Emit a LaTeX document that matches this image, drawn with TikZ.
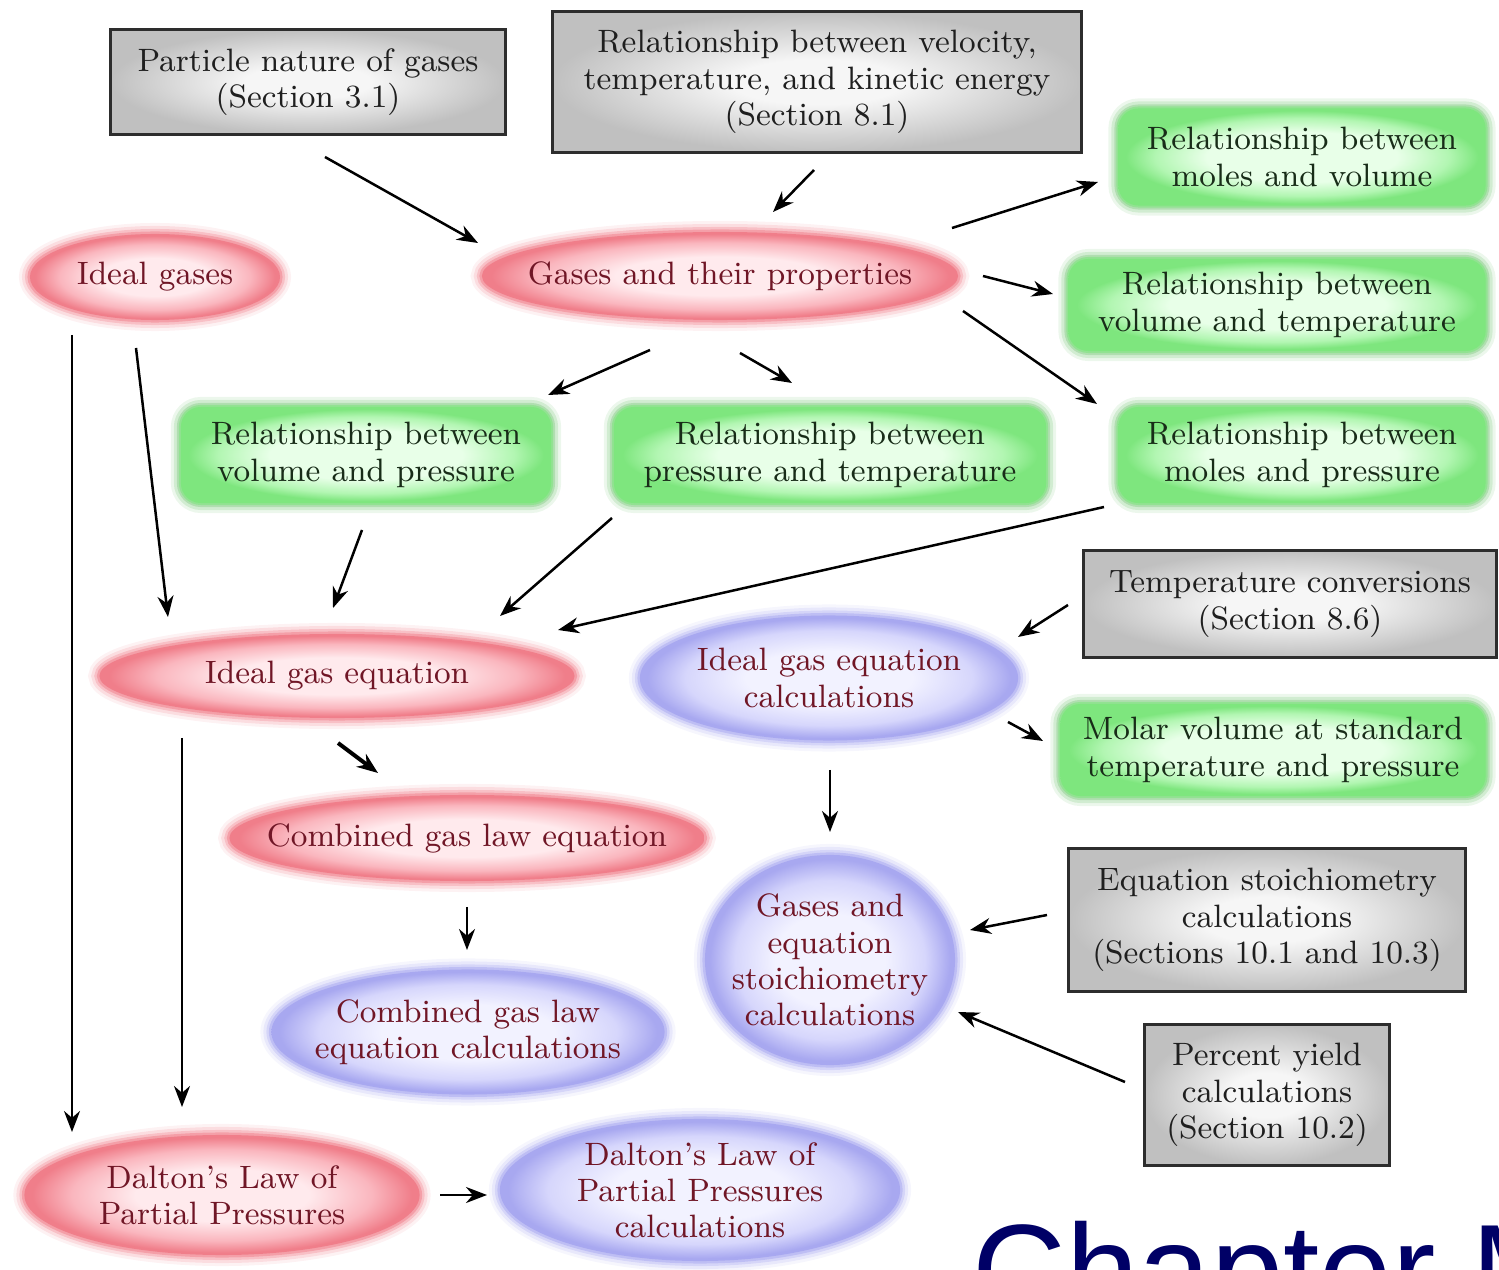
\documentclass[tikz,border=0pt]{standalone}
\usepackage{fontspec}
\usetikzlibrary{shapes.geometric,arrows.meta}
\newfontfamily\chapfont{Liberation Sans}
\definecolor{redin}{RGB}{255,234,237}
\definecolor{redmid}{RGB}{250,182,190}
\definecolor{redout}{RGB}{240,126,138}
\definecolor{bluein}{RGB}{242,242,255}
\definecolor{bluemid}{RGB}{214,214,252}
\definecolor{blueout}{RGB}{168,168,240}
\definecolor{greenin}{RGB}{232,255,232}
\definecolor{greenmid}{RGB}{178,246,178}
\definecolor{greenout}{RGB}{126,230,126}
\definecolor{greenglow}{RGB}{100,190,100}
\definecolor{grayin}{RGB}{246,246,246}
\definecolor{grayout}{RGB}{192,192,192}
\definecolor{grayborder}{RGB}{45,45,45}
\definecolor{maroontext}{RGB}{112,22,38}
\definecolor{greentext}{RGB}{24,44,24}
\definecolor{chapterblue}{RGB}{0,0,102}
\pgfdeclareradialshading{redglow}{\pgfpoint{0bp}{0bp}}{color(0bp)=(redin); color(11bp)=(redin); color(19bp)=(redmid); color(24bp)=(redout); color(50bp)=(redout)}
\pgfdeclareradialshading{blueglow}{\pgfpoint{0bp}{0bp}}{color(0bp)=(bluein); color(11bp)=(bluein); color(19bp)=(bluemid); color(24bp)=(blueout); color(50bp)=(blueout)}
\pgfdeclareradialshading{greenfill}{\pgfpoint{0bp}{0bp}}{color(0bp)=(greenin); color(13bp)=(greenin); color(20bp)=(greenmid); color(24bp)=(greenout); color(50bp)=(greenout)}
\pgfdeclareradialshading{grayfill}{\pgfpoint{0bp}{0bp}}{color(0bp)=(grayin); color(8bp)=(grayin); color(25bp)=(grayout); color(50bp)=(grayout)}

\begin{document}
\begin{tikzpicture}[x=0.01cm, y=-0.01cm]
    \tikzstyle{every node} = [font=\fontsize{9.2}{10.3}\selectfont, align=center, inner sep=0pt]
    \tikzstyle{redell} = [ellipse, inner xsep=-3cm, inner ysep=-2cm, shading=redglow, text=maroontext,
        preaction={draw=redout, line width=0.22cm, draw opacity=0.1},
        preaction={draw=redout, line width=0.16cm, draw opacity=0.18},
        preaction={draw=redout, line width=0.10cm, draw opacity=0.3},
        preaction={draw=redout, line width=0.05cm, draw opacity=0.5}]
    \tikzstyle{blueell} = [ellipse, inner xsep=-3cm, inner ysep=-2cm, shading=blueglow, text=maroontext,
        preaction={draw=blueout, line width=0.22cm, draw opacity=0.1},
        preaction={draw=blueout, line width=0.16cm, draw opacity=0.18},
        preaction={draw=blueout, line width=0.10cm, draw opacity=0.3},
        preaction={draw=blueout, line width=0.05cm, draw opacity=0.5}]
    \tikzstyle{relbox} = [rectangle, rounded corners=0.2cm, shading=greenfill, text=greentext,
        preaction={draw=greenglow, line width=0.20cm, draw opacity=0.12},
        preaction={draw=greenglow, line width=0.14cm, draw opacity=0.2},
        preaction={draw=greenglow, line width=0.08cm, draw opacity=0.3},
        preaction={draw=greenout, line width=0.04cm, draw opacity=0.6}]
    \tikzstyle{secbox} = [rectangle, shading=grayfill, draw=grayborder, line width=0.03cm, text=black!88]
    \tikzstyle{arr} = [-{Stealth[length=0.21cm, width=0.16cm]}, line width=0.025cm]
    \useasboundingbox (0,0) rectangle (1499,1270);

    % prior knowledge
    \node[secbox, minimum width=3.94cm, minimum height=1.04cm] (particle) at (308,82) {Particle nature of gases\\(Section 3.1)};
    \node[secbox, minimum width=5.29cm, minimum height=1.40cm] (velocity) at (817,82) {Relationship between velocity,\\temperature, and kinetic energy\\(Section 8.1)};
    \node[secbox, minimum width=4.12cm, minimum height=1.06cm] (tempconv) at (1290,604) {Temperature conversions\\(Section 8.6)};
    \node[secbox, minimum width=3.96cm, minimum height=1.43cm] (eqstoich) at (1267,920) {Equation stoichiometry\\calculations\\(Sections 10.1 and 10.3)};
    \node[secbox, minimum width=2.45cm, minimum height=1.40cm] (yield) at (1267,1095) {Percent yield\\calculations\\(Section 10.2)};

    % topics
    \node[redell, minimum width=2.50cm, minimum height=0.86cm] (idealgases) at (155,277) {Ideal gases};
    \node[redell, minimum width=4.76cm, minimum height=0.88cm] (properties) at (720,276) {Gases and their properties};
    \node[redell, minimum width=4.75cm, minimum height=0.84cm] (idealeq) at (337,676) {Ideal gas equation};
    \node[redell, minimum width=4.75cm, minimum height=0.86cm] (combined) at (467,838) {Combined gas law equation};
    \node[redell, minimum width=3.95cm, minimum height=1.20cm] (dalton) at (222,1195) {Dalton's Law of\\Partial Pressures};

    % relationships
    \node[relbox, minimum width=3.67cm, minimum height=0.97cm] (molvol) at (1302,157) {Relationship between\\moles and volume};
    \node[relbox, minimum width=4.17cm, minimum height=0.92cm] (voltemp) at (1277,305) {Relationship between\\volume and temperature};
    \node[relbox, minimum width=3.70cm, minimum height=0.96cm] (volpres) at (366,455) {Relationship between\\volume and pressure};
    \node[relbox, minimum width=4.32cm, minimum height=0.96cm] (prestemp) at (830,455) {Relationship between\\pressure and temperature};
    \node[relbox, minimum width=3.67cm, minimum height=0.96cm] (molpres) at (1302,455) {Relationship between\\moles and pressure};
    \node[relbox, minimum width=4.25cm, minimum height=0.92cm] (molarvol) at (1273,750) {Molar volume at standard\\temperature and pressure};

    % calculations
    \node[blueell, minimum width=3.78cm, minimum height=1.25cm] (idealcalc) at (829,678) {Ideal gas equation\\calculations};
    \node[blueell, minimum width=2.50cm, minimum height=2.10cm] (gasstoich) at (830,960) {Gases and\\equation\\stoichiometry\\calculations};
    \node[blueell, minimum width=3.93cm, minimum height=1.25cm] (combcalc) at (468,1032) {Combined gas law\\equation calculations};
    \node[blueell, minimum width=4.00cm, minimum height=1.42cm] (daltcalc) at (700,1190) {Dalton's Law of\\Partial Pressures\\calculations};

    \node[anchor=base west, text=chapterblue, font=\chapfont\fontsize{37}{37}\selectfont] (chapter) at (972,1315) {Chapter M};

    % arrows
    \draw[arr] ([shift={(17,75)}]particle.center) -- ([shift={(-242,-33)}]properties.center);
    \draw[arr] ([shift={(-3,88)}]velocity.center) -- ([shift={(53,-64)}]properties.center);
    \draw[arr] ([shift={(232,-48)}]properties.center) -- ([shift={(-204,25)}]molvol.center);
    \draw[arr] ([shift={(263,0)}]properties.center) -- ([shift={(-224,-11)}]voltemp.center);
    \draw[arr] ([shift={(243,35)}]properties.center) -- ([shift={(-205,-51)}]molpres.center);
    \draw[arr] ([shift={(-70,74)}]properties.center) -- ([shift={(182,-60)}]volpres.center);
    \draw[arr] ([shift={(20,77)}]properties.center) -- ([shift={(-38,-72)}]prestemp.center);
    \draw[arr] ([shift={(-83,58)}]idealgases.center) -- ([shift={(-150,-63)}]dalton.center);
    \draw[arr] ([shift={(-19,71)}]idealgases.center) -- ([shift={(-169,-59)}]idealeq.center);
    \draw[arr] ([shift={(-4,75)}]volpres.center) -- ([shift={(-4,-68)}]idealeq.center);
    \draw[arr] ([shift={(-218,63)}]prestemp.center) -- ([shift={(163,-60)}]idealeq.center);
    \draw[arr] ([shift={(-198,52)}]molpres.center) -- ([shift={(221,-46)}]idealeq.center);
    \draw[arr] ([shift={(-222,1)}]tempconv.center) -- ([shift={(189,-41)}]idealcalc.center);
    \draw[arr] ([shift={(179,44)}]idealcalc.center) -- ([shift={(-230,-9)}]molarvol.center);
    \draw[arr] ([shift={(1,92)}]idealcalc.center) -- ([shift={(0,-128)}]gasstoich.center);
    \draw[arr, line width=0.04cm] ([shift={(1,67)}]idealeq.center) -- ([shift={(-89,-65)}]combined.center);
    \draw[arr] ([shift={(-155,62)}]idealeq.center) -- ([shift={(-40,-88)}]dalton.center);
    \draw[arr] ([shift={(0,69)}]combined.center) -- ([shift={(-1,-82)}]combcalc.center);
    \draw[arr] ([shift={(-220,-5)}]eqstoich.center) -- ([shift={(140,-30)}]gasstoich.center);
    \draw[arr] ([shift={(-142,-13)}]yield.center) -- ([shift={(128,52)}]gasstoich.center);
    \draw[arr] ([shift={(218,0)}]dalton.center) -- ([shift={(-213,5)}]daltcalc.center);
\end{tikzpicture}
\end{document}
